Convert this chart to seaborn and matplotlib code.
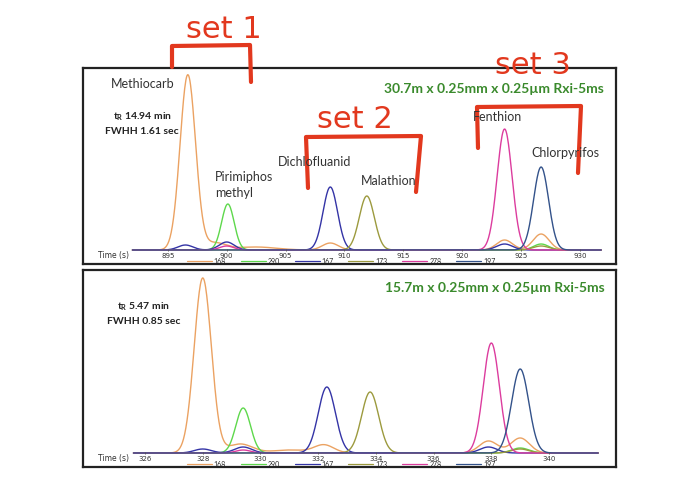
import numpy as np
import pandas as pd
import matplotlib
matplotlib.use("Agg")
import matplotlib.pyplot as plt
import seaborn as sns

# ion traces and their colours
ions = ["168", "290", "167", "173", "278", "197"]
ion_colors = ["#EBA262", "#5ED84C", "#3434A6", "#9C9A3E", "#DC3C9E", "#33528A"]

# 30.7 m column - peak table: ion, retention time (s), height, FWHM (s)
long_ion = ["168", "168", "168", "168", "168", "168",
            "290", "290",
            "167", "167", "167", "167",
            "173", "173",
            "278", "278",
            "197"]
long_rt = [896.7, 899.0, 902.5, 908.8, 923.6, 926.7,
           900.1, 926.7,
           896.5, 900.0, 908.8, 923.6,
           911.9, 926.7,
           900.0, 923.6,
           926.7]
long_height = [175, 7, 3, 7, 10, 16,
               46, 6,
               5, 8, 63, 6,
               54, 4,
               4, 121,
               83]
long_fwhm = [1.55, 2.2, 4.0, 1.6, 1.6, 1.6,
             1.25, 1.5,
             1.5, 1.5, 1.45, 1.6,
             1.5, 1.6,
             1.4, 1.5,
             1.5]
long_span = (892.0, 931.8)
long_ticks = [895, 900, 905, 910, 915, 920, 925, 930]

# 15.7 m column
short_ion = ["168", "168", "168", "168", "168", "168",
             "290", "290",
             "167", "167", "167", "167",
             "173", "173",
             "278", "278",
             "197"]
short_rt = [328.0, 329.3, 331.0, 332.2, 337.9, 339.0,
            329.4, 339.0,
            328.0, 329.4, 332.3, 337.9,
            333.8, 339.0,
            329.4, 338.0,
            339.0]
short_height = [175, 9, 3, 8, 12, 15,
                45, 5,
                4, 6, 66, 6,
                61, 4,
                3, 110,
                84]
short_fwhm = [0.7, 1.0, 1.4, 0.8, 0.75, 0.75,
              0.6, 0.7,
              0.7, 0.7, 0.7, 0.7,
              0.7, 0.7,
              0.6, 0.66,
              0.7]
short_span = (325.6, 341.7)
short_ticks = [326, 328, 330, 332, 334, 336, 338, 340]


def traces(ion_list, rt, height, fwhm, span):
    t = np.linspace(span[0], span[1], 800)
    frames = []
    for ion in ions:
        sig = np.zeros_like(t)
        for i, r, h, w in zip(ion_list, rt, height, fwhm):
            if i == ion:
                sig += h * np.exp(-4 * np.log(2) * (t - r) ** 2 / w ** 2)
        frames.append(pd.DataFrame({"time": t, "signal": sig, "ion": ion}))
    return pd.concat(frames, ignore_index=True)


sns.set_style("white")
plt.rcParams["font.family"] = ["Lato", "DejaVu Sans"]
plt.rcParams["mathtext.fontset"] = "custom"
plt.rcParams["mathtext.bf"] = "Lato:bold"

fig = plt.figure(figsize=(7, 4.88), dpi=100)
W, H = 700, 488


def panel(box, df, xlim, ticks):
    x0, y0, x1, y1 = box
    ax = fig.add_axes([x0 / W, 1 - y1 / H, (x1 - x0) / W, (y1 - y0) / H])
    sns.lineplot(data=df, x="time", y="signal", hue="ion", hue_order=ions,
                 palette=dict(zip(ions, ion_colors)), estimator=None, sort=False,
                 lw=1.0, ax=ax)
    ax.set_xlim(*xlim)
    ax.set_ylim(-14, (y1 - y0) - 14)
    ax.set_xticks([])
    ax.set_yticks([])
    ax.set_xlabel("")
    ax.set_ylabel("")
    for s in ax.spines.values():
        s.set_color("#222222")
        s.set_linewidth(1.6)
    # small tick marks sitting on the baseline
    ax.vlines(ticks, -1.2, 1.2, color="#555555", lw=0.6, zorder=3)
    for tk in ticks:
        ax.text(tk, -5.8, str(tk), ha="center", va="center", fontsize=5,
                family="DejaVu Sans", color="#333333", zorder=5)
    ax.text(0.057, -5.8, "Time (s)", transform=ax.get_yaxis_transform(),
            ha="center", va="center", fontsize=5.5, family="DejaVu Sans", color="#333333")
    sns.move_legend(ax, "center", bbox_to_anchor=(0.484, 0.015), ncol=6,
                    title=None, frameon=True, fontsize=5, handlelength=3.6,
                    columnspacing=2.1, handletextpad=0.3, borderpad=0.0,
                    borderaxespad=0, fancybox=False, edgecolor="#BBBBBB",
                    framealpha=0)
    ax.get_legend().set_zorder(1)
    for ln, c in zip(ax.get_legend().get_lines(), ion_colors):
        ln.set_linewidth(0.9)
        ln.set_color(c)
    return ax


ax1 = panel((83, 68, 616, 264), traces(long_ion, long_rt, long_height, long_fwhm, long_span),
            (887.8, 933.06), long_ticks)
ax2 = panel((83, 270, 616, 467), traces(short_ion, short_rt, short_height, short_fwhm, short_span),
            (323.85, 342.32), short_ticks)

# overlay in pixel coordinates for the annotations
ov = fig.add_axes([0, 0, 1, 1], zorder=10)
ov.set_xlim(0, W)
ov.set_ylim(H, 0)
ov.axis("off")

lab = dict(fontsize=9, color="#333333", va="center")
ov.text(143, 84, "Methiocarb", ha="center", **lab)
ov.text(215, 177, "Pirimiphos", ha="left", **lab)
ov.text(215, 193, "methyl", ha="left", **lab)
ov.text(315, 162, "Dichlofluanid", ha="center", **lab)
ov.text(389, 181, "Malathion", ha="center", **lab)
ov.text(498, 117, "Fenthion", ha="center", **lab)
ov.text(565, 153, "Chlorpyrifos", ha="center", **lab)

info = dict(fontsize=7.5, color="#222222", va="center", ha="center", fontweight="bold")
ov.text(143, 117, r"t$_\mathbf{R}$ 14.94 min", **info)
ov.text(142, 131, "FWHH 1.61 sec", **info)
ov.text(144, 307, r"t$_\mathbf{R}$ 5.47 min", **info)
ov.text(144, 321, "FWHH 0.85 sec", **info)

col = dict(fontsize=10, color="#3A8A2C", va="center", ha="center", fontweight="bold")
ov.text(494, 89, "30.7m x 0.25mm x 0.25µm Rxi-5ms", **col)
ov.text(495, 288, "15.7m x 0.25mm x 0.25µm Rxi-5ms", **col)

# hand-drawn red set brackets
red = "#E2381E"
ov.plot([172, 172, 250, 251], [67, 46, 45, 82], color=red, lw=3, solid_capstyle="round")
ov.plot([308, 306, 421, 416], [188, 137, 136, 192], color=red, lw=3, solid_capstyle="round")
ov.plot([478, 477, 581, 578], [148, 107, 106, 173], color=red, lw=3, solid_capstyle="round")
hand = dict(fontsize=22, color=red, va="center", ha="center", family="DejaVu Sans")
ov.text(224, 29, "set 1", **hand)
ov.text(355, 119, "set 2", **hand)
ov.text(533, 65, "set 3", **hand)

fig.savefig("out.png", dpi=100)
